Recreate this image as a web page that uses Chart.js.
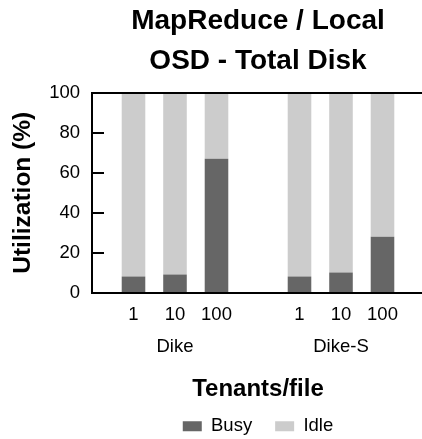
<!DOCTYPE html>
<html>
<head>
<meta charset="utf-8">
<script src="https://cdn.jsdelivr.net/npm/chart.js@4"></script>
<style>
    html, body { margin: 0; padding: 0; background: #fff; overflow: hidden; }
    #wrap { position: relative; width: 430px; height: 439px; }
</style>
</head>
<body>
<div id="wrap"><canvas id="util-chart"></canvas></div>
<script>
// ---- data ----
const tenants = ['1', '10', '100'];
const systems = ['Dike', 'Dike-S'];
const busyDike = [8, 9, 67];
const idleDike = [92, 91, 33];
const busyDikeS = [8, 10, 28];
const idleDikeS = [92, 90, 72];
const yTicks = [0, 20, 40, 60, 80, 100];

// group label goes under the middle bar of each group, empty slots pad the groups
function groupLabels(name) {
    return tenants.map((t, i) => i === 1 ? [t, name] : t);
}
const labels = ['', ...groupLabels(systems[0]), '', ...groupLabels(systems[1]), ''];
const busy = [null, ...busyDike, null, ...busyDikeS, null];
const idle = [null, ...idleDike, null, ...idleDikeS, null];

const FONT = "'Liberation Sans', Arial, Helvetica, sans-serif";
Chart.defaults.font.family = FONT;
Chart.defaults.color = '#000';

// top edge of the frame + tick marks pointing into the plot
const frame = {
    id: 'frame',
    afterDraw(chart) {
        const { ctx, chartArea } = chart;
        const y = chart.scales.y;
        ctx.save();
        ctx.strokeStyle = '#000';
        ctx.lineWidth = 2;
        ctx.beginPath();
        ctx.moveTo(chartArea.left - 1, chartArea.top);
        ctx.lineTo(chartArea.right, chartArea.top);
        y.ticks.forEach(t => {
            const py = Math.round(y.getPixelForValue(t.value));
            ctx.moveTo(chartArea.left, py);
            ctx.lineTo(chartArea.left + 12, py);
        });
        ctx.stroke();
        ctx.restore();
    }
};

const ctx = document.getElementById('util-chart').getContext('2d');
new Chart(ctx, {
    type: 'bar',
    data: {
        labels: labels,
        datasets: [
            { label: 'Busy', data: busy, backgroundColor: '#666666', borderWidth: 0 },
            { label: 'Idle', data: idle, backgroundColor: '#cccccc', borderWidth: 0 }
        ]
    },
    plugins: [frame],
    options: {
        responsive: true,
        maintainAspectRatio: false,
        animation: false,
        categoryPercentage: 1,
        barPercentage: 0.568,
        layout: { padding: { left: 0, right: 0, top: 0, bottom: -6.5 } },
        plugins: {
            title: {
                display: true,
                fullSize: false,
                text: ['MapReduce / Local', 'OSD - Total Disk'],
                color: '#000',
                font: { size: 28, weight: 'bold', lineHeight: '40px' },
                padding: { top: 1, bottom: 12 }
            },
            legend: {
                position: 'bottom',
                fullSize: false,
                labels: {
                    boxWidth: 19,
                    boxHeight: 10,
                    padding: 23,
                    color: '#000',
                    font: { size: 18.5 }
                }
            },
            tooltip: { enabled: false }
        },
        scales: {
            x: {
                stacked: true,
                offset: false,
                z: 1,
                grid: { display: false, drawTicks: false },
                border: { display: true, color: '#000', width: 2 },
                ticks: {
                    autoSkip: false,
                    maxRotation: 0,
                    padding: 6,
                    color: '#000',
                    font: { size: 18.5, lineHeight: '32px' }
                },
                title: {
                    display: true,
                    text: 'Tenants/file',
                    color: '#000',
                    font: { size: 24, weight: 'bold', lineHeight: 1 },
                    padding: { top: 8.5, bottom: -7 }
                }
            },
            y: {
                stacked: true,
                min: 0,
                max: 100,
                z: 1,
                afterBuildTicks: (scale) => { scale.ticks = yTicks.map(v => ({ value: v })); },
                afterFit: (scale) => { scale.width = 92; },
                grid: { drawOnChartArea: false, drawTicks: false },
                border: { display: true, color: '#000', width: 2 },
                ticks: {
                    padding: 12,
                    color: '#000',
                    font: { size: 18.5 }
                },
                title: {
                    display: true,
                    text: 'Utilization (%)',
                    color: '#000',
                    font: { size: 24.5, weight: 'bold', lineHeight: 1 },
                    padding: { top: 11, bottom: 0 }
                }
            }
        }
    }
});
</script>
</body>
</html>
